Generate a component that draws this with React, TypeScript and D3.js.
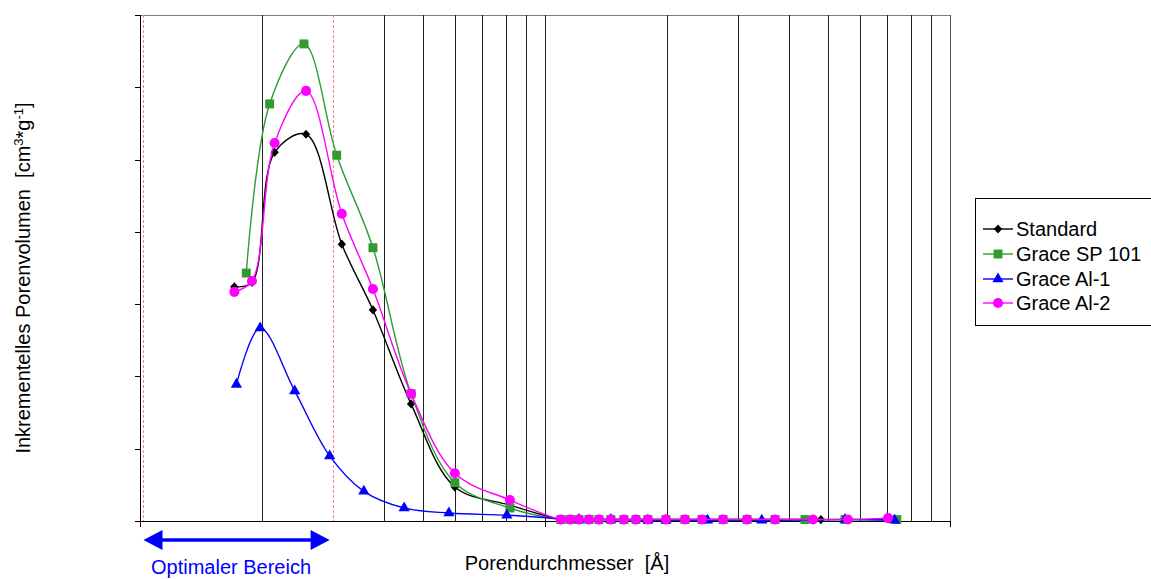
import React from 'react';
import * as d3 from 'd3';

// Porendurchmesser [Å] per series and incremental pore volume [cm³/g]
const standardX = [17.1, 18.9, 21.5, 25.7, 31.5, 37.6, 46.7, 59.9, 81.9, 109.4, 115.3, 121.3, 128.4, 135.9, 145.4, 156.6, 167.7, 179.5, 198.9, 221.6, 244.2, 275.2, 315.4, 369.8, 480];
const standardY = [0.0324, 0.0330, 0.0510, 0.0535, 0.0383, 0.0292, 0.0162, 0.0047, 0.0022, 0.0002, 0.0002, 0.0002, 0.0002, 0.0002, 0.0002, 0.0002, 0.0002, 0.0002, 0.0002, 0.0002, 0.0002, 0.0002, 0.0002, 0.0002, 0.0002];

const sp101X = [18.3, 20.9, 25.4, 30.6, 37.6, 46.7, 59.9, 81.9, 109.4, 115.3, 121.3, 128.4, 135.9, 145.4, 156.6, 167.7, 179.5, 198.9, 221.6, 244.2, 275.2, 315.4, 369.8, 438.5, 550.5, 739];
const sp101Y = [0.0343, 0.0577, 0.0660, 0.0506, 0.0378, 0.0176, 0.0053, 0.0018, 0.0002, 0.0002, 0.0002, 0.0002, 0.0002, 0.0002, 0.0002, 0.0002, 0.0002, 0.0002, 0.0002, 0.0002, 0.0002, 0.0002, 0.0002, 0.0002, 0.0002, 0.0002];

const al1X = [17.3, 19.8, 24.1, 29.4, 35.7, 44.9, 57.9, 80.5, 121.3, 145.4, 179.5, 198.9, 252, 343, 550.5, 730];
const al1Y = [0.0189, 0.0267, 0.0180, 0.0090, 0.0041, 0.0018, 0.0011, 0.0008, 0.0002, 0.0002, 0.0001, 0.0001, 0.0001, 0.0001, 0.0002, 0.0001];

const al2X = [17.1, 18.9, 21.5, 25.7, 31.5, 37.6, 46.7, 59.9, 81.9, 109.4, 115.3, 121.3, 128.4, 135.9, 145.4, 156.6, 167.7, 179.5, 198.9, 221.6, 244.2, 275.2, 315.4, 369.8, 459, 560, 703];
const al2Y = [0.0317, 0.0332, 0.0523, 0.0595, 0.0425, 0.0321, 0.0176, 0.0066, 0.0029, 0.0002, 0.0002, 0.0002, 0.0002, 0.0002, 0.0002, 0.0002, 0.0002, 0.0002, 0.0002, 0.0002, 0.0002, 0.0002, 0.0002, 0.0002, 0.0002, 0.0002, 0.0004];

const seriesNames = ['Standard', 'Grace SP 101', 'Grace Al-1', 'Grace Al-2'];
const gridTicks = [20, 40, 50, 60, 70, 80, 90, 100, 200, 300, 400, 500, 600, 700, 800, 900];
const majorTicks = [10, 100, 1000];
const yTicks = [0, 0.01, 0.02, 0.03, 0.04, 0.05, 0.06, 0.07];
const optimalRange = [10.2, 29.9];

const diamond = {
  draw(ctx: any, size: number) {
    const r = Math.sqrt(size) / 2;
    ctx.moveTo(0, -r * 1.1);
    ctx.lineTo(r, 0);
    ctx.lineTo(0, r * 1.1);
    ctx.lineTo(-r, 0);
    ctx.closePath();
  },
};

const series = [
  { name: seriesNames[0], xs: standardX, ys: standardY, color: '#000000', symbol: diamond, size: 70 },
  { name: seriesNames[1], xs: sp101X, ys: sp101Y, color: '#339933', symbol: d3.symbolSquare, size: 80 },
  { name: seriesNames[2], xs: al1X, ys: al1Y, color: '#0000ff', symbol: d3.symbolTriangle, size: 55 },
  { name: seriesNames[3], xs: al2X, ys: al2Y, color: '#ff00ff', symbol: d3.symbolCircle, size: 80 },
];

const font = 'Liberation Sans, Arial, sans-serif';

export default function App() {
  const left = 140, right = 950, top = 15, bottom = 521;
  const x = d3.scaleLog().domain([10, 1000]).range([left, right]);
  const y = d3.scaleLinear().domain([0, 0.07]).range([bottom, top]);

  const line = d3.line<[number, number]>()
    .x(d => x(d[0]))
    .y(d => y(d[1]))
    .curve(d3.curveCatmullRom.alpha(0.5));

  const legendRows = [229, 254, 279, 303];

  return (
    <div style={{ position: 'absolute', left: 0, top: 0 }}>
      <svg width={1151} height={579} style={{ display: 'block', fontFamily: font }}>
        <rect width={1151} height={579} fill="#fff" />

        {/* frame */}
        <line x1={left} x2={right} y1={top + 0.5} y2={top + 0.5} stroke="#808080" />
        <line x1={right + 0.5} x2={right + 0.5} y1={top} y2={bottom} stroke="#555" />

        {/* grid lines */}
        {gridTicks.map(t => (
          <line key={t} x1={Math.round(x(t)) + 0.5} x2={Math.round(x(t)) + 0.5} y1={top} y2={bottom} stroke="#222" />
        ))}

        {/* optimal range markers */}
        {optimalRange.map(t => (
          <line key={'o' + t} x1={Math.round(x(t)) + 0.5} x2={Math.round(x(t)) + 0.5} y1={top} y2={bottom}
            stroke="#ff8080" strokeDasharray="3,2" />
        ))}

        {/* axes */}
        <line x1={left + 0.5} x2={left + 0.5} y1={top} y2={bottom} stroke="#000" />
        <line x1={left} x2={right} y1={bottom + 0.5} y2={bottom + 0.5} stroke="#000" />
        {yTicks.map(t => (
          <line key={'y' + t} x1={left - 5} x2={left} y1={Math.round(y(t)) + 0.5} y2={Math.round(y(t)) + 0.5} stroke="#000" />
        ))}
        {majorTicks.map(t => (
          <line key={'x' + t} x1={Math.round(x(t)) + 0.5} x2={Math.round(x(t)) + 0.5} y1={bottom} y2={bottom + 6} stroke="#000" />
        ))}

        {/* series */}
        {series.map(s => {
          const pts = s.xs.map((v, i) => [v, s.ys[i]] as [number, number]);
          const sym = d3.symbol().type(s.symbol as any).size(s.size)();
          return (
            <g key={s.name}>
              <path d={line(pts) || ''} fill="none" stroke={s.color} strokeWidth={1.4} />
              {pts.map((p, i) => (
                <path key={i} d={sym || ''} transform={`translate(${x(p[0])},${y(p[1])})`} fill={s.color} />
              ))}
            </g>
          );
        })}

        {/* legend */}
        <rect x={975.5} y={198.5} width={200} height={127} fill="#fff" stroke="#000" />
        {series.map((s, i) => {
          const sym = d3.symbol().type(s.symbol as any).size(s.size)();
          const ly = legendRows[i];
          return (
            <g key={'l' + s.name}>
              <line x1={983} x2={1013} y1={ly} y2={ly} stroke={s.color} strokeWidth={1.4} />
              <path d={sym || ''} transform={`translate(998,${ly})`} fill={s.color} />
              <text x={1016} y={ly + 7} fontSize={20} fill="#000">{s.name}</text>
            </g>
          );
        })}

        {/* axis titles */}
        <text x={567} y={570} fontSize={20} textAnchor="middle" fill="#000" xmlSpace="preserve">{'Porendurchmesser  [Å]'}</text>
        <text transform="translate(30,278) rotate(-90)" fontSize={20} textAnchor="middle" fill="#000" xmlSpace="preserve">
          {'Inkrementelles Porenvolumen  [cm'}<tspan dy={-7} fontSize={13}>3</tspan><tspan dy={7}>*g</tspan><tspan dy={-7} fontSize={13}>-1</tspan><tspan dy={7}>]</tspan>
        </text>

        {/* optimal range arrow */}
        <g fill="#0000ff" stroke="#0000ff">
          <line x1={x(optimalRange[0]) + 15} x2={x(optimalRange[1]) - 15} y1={540} y2={540} strokeWidth={3.5} />
          <path d={`M${x(optimalRange[0])},540 L${x(optimalRange[0]) + 19},530 L${x(optimalRange[0]) + 19},550 Z`} stroke="none" />
          <path d={`M${x(optimalRange[1]) - 3},540 L${x(optimalRange[1]) - 22},530 L${x(optimalRange[1]) - 22},550 Z`} stroke="none" />
        </g>
        <text x={231} y={574} fontSize={20} textAnchor="middle" fill="#0000ff">Optimaler Bereich</text>
      </svg>
    </div>
  );
}
